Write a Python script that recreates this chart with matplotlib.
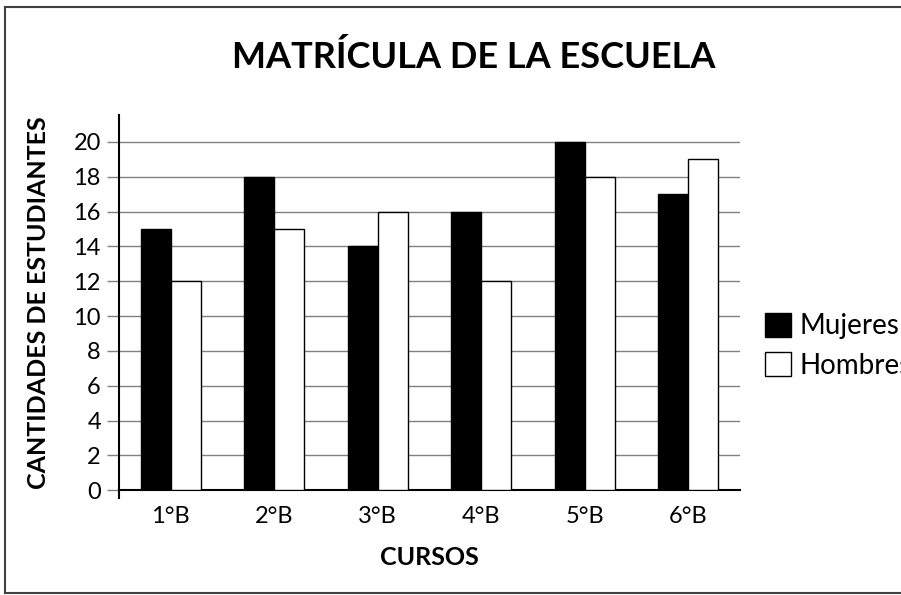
import numpy as np
import matplotlib.pyplot as plt
from matplotlib.lines import Line2D

plt.rcParams['font.family'] = ['Lato', 'DejaVu Sans']

# Data
cursos = ['1°B', '2°B', '3°B', '4°B', '5°B', '6°B']
mujeres = [15, 18, 14, 16, 20, 17]
hombres = [12, 15, 16, 12, 18, 19]
y_ticks = list(range(0, 21, 2))

fig = plt.figure(figsize=(9.01, 5.95), dpi=100)
ax = fig.add_axes([0.132, 0.176, 0.689, 0.631])

x = np.arange(len(cursos))
w = 0.29
ax.bar(x - w / 2, mujeres, w, color='black', edgecolor='black', linewidth=1, label='Mujeres', zorder=3)
ax.bar(x + w / 2, hombres, w, color='white', edgecolor='black', linewidth=1, label='Hombres', zorder=3)

ax.set_xlim(-0.5, len(cursos) - 0.5)
ax.set_ylim(0, 21.55)
ax.set_yticks(y_ticks)
ax.set_xticks(x)
ax.set_xticklabels(cursos, fontsize=17)
ax.tick_params(axis='y', labelsize=17, length=9, width=1, color='#808080', pad=4)
ax.tick_params(axis='x', length=0, pad=11)
ax.grid(axis='y', color='#808080', linewidth=1, zorder=0)

for side in ['top', 'right']:
    ax.spines[side].set_visible(False)
ax.spines['left'].set_linewidth(1.5)
ax.spines['bottom'].set_linewidth(1.5)
# y axis pokes a little below the x axis
ax.axvline(-0.5, ymin=-0.02, ymax=0, color='black', linewidth=1.5, clip_on=False)

ax.set_ylabel('CANTIDADES DE ESTUDIANTES', fontsize=18, fontweight='bold', labelpad=17)
ax.set_xlabel('CURSOS', fontsize=18, fontweight='bold', labelpad=14)
fig.text(0.526, 0.905, 'MATRÍCULA DE LA ESCUELA', fontsize=26, fontweight='bold', ha='center', va='center')

ax.legend(loc='center left', bbox_to_anchor=(1.0, 0.385), frameon=False, fontsize=20,
          handlelength=0.95, handleheight=0.95, handletextpad=0.3, labelspacing=0.45)

# outer frame (right edge falls outside the image)
for xs, ys in [([0.005, 0.005], [0.003, 0.988]), ([0.005, 1.0], [0.988, 0.988]), ([0.005, 1.0], [0.003, 0.003])]:
    fig.add_artist(Line2D(xs, ys, color='#404040', linewidth=1.5))

fig.savefig('out.png', dpi=100)
